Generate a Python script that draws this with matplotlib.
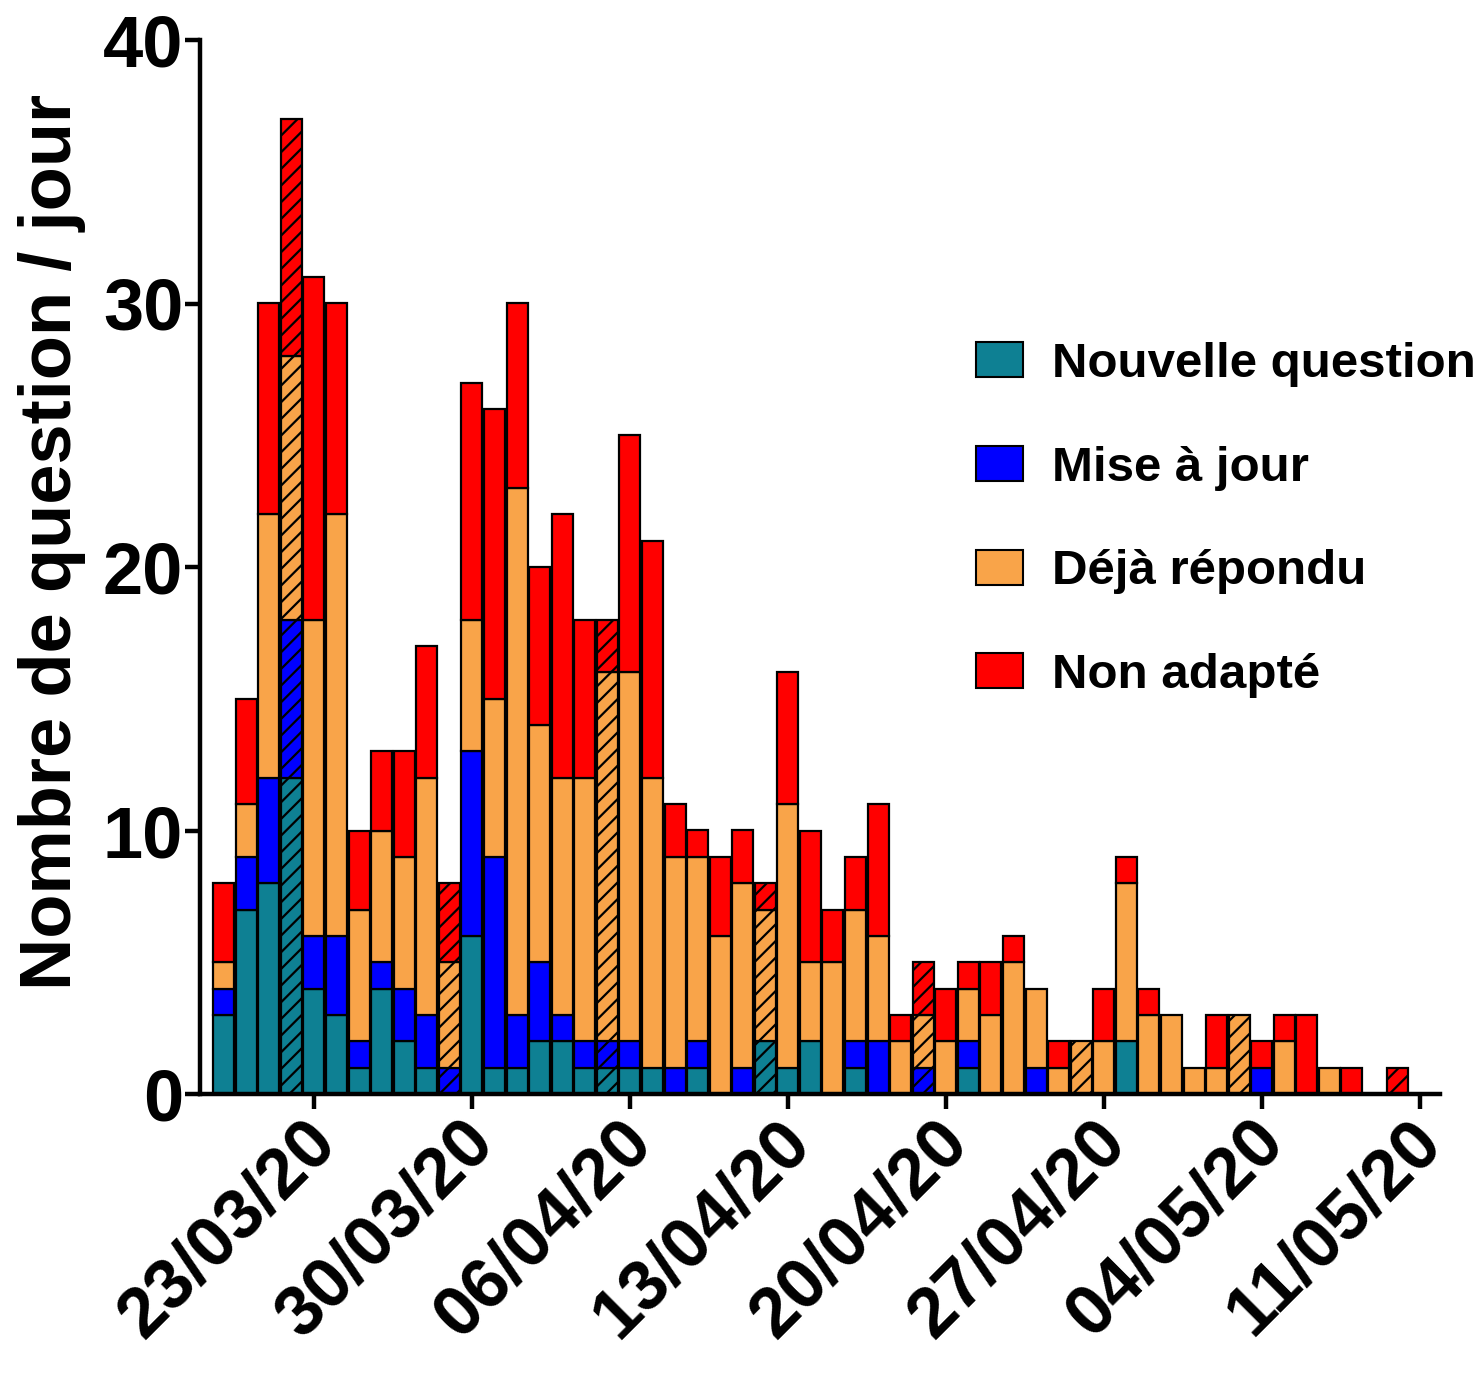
import matplotlib
matplotlib.use("Agg")
import matplotlib.pyplot as plt
from matplotlib.patches import Patch
import matplotlib.transforms as mtransforms
import numpy as np
import pandas as pd

# ---------------- data ----------------
start_date = "2020-03-19"
n_days = 53
nouvelle = [3, 7, 8, 12, 4, 3, 1, 4, 2, 1, 0, 6, 1,
            1, 2, 2, 1, 1, 1, 1, 0, 1, 0, 0, 2, 1, 2, 0, 1, 0, 0, 0, 0, 1, 0, 0, 0, 0, 0, 0, 2, 0, 0,
            0, 0, 0, 0, 0, 0, 0, 0, 0, 0]
mise_a_jour = [1, 2, 4, 6, 2, 3, 1, 1, 2, 2, 1, 7, 8,
               2, 3, 1, 1, 1, 1, 0, 1, 1, 0, 1, 0, 0, 0, 0, 1, 2, 0, 1, 0, 1, 0, 0, 1, 0, 0, 0, 0, 0, 0,
               0, 0, 0, 1, 0, 0, 0, 0, 0, 0]
deja_repondu = [1, 2, 10, 10, 12, 16, 5, 5, 5, 9, 4, 5, 6,
                20, 9, 9, 10, 14, 14, 11, 8, 7, 6, 7, 5, 10, 3, 5, 5, 4, 2, 2, 2, 2, 3, 5, 3, 1, 2, 2, 6, 3, 3,
                1, 1, 3, 0, 2, 0, 1, 0, 0, 0]
non_adapte = [3, 4, 8, 9, 13, 8, 3, 3, 4, 5, 3, 9, 11,
              7, 6, 10, 6, 2, 9, 9, 2, 1, 3, 2, 1, 5, 5, 2, 2, 5, 1, 2, 2, 1, 2, 1, 0, 1, 0, 2, 1, 1, 0,
              0, 2, 0, 1, 1, 3, 0, 1, 0, 1]
series_names = ["Nouvelle question", "Mise à jour", "Déjà répondu", "Non adapté"]
series_colors = ["#0E8093", "#0000FF", "#F9A449", "#FF0000"]
tick_dates = ["2020-03-23", "2020-03-30", "2020-04-06", "2020-04-13",
              "2020-04-20", "2020-04-27", "2020-05-04", "2020-05-11"]
tick_labels = ["23/03/20", "30/03/20", "06/04/20", "13/04/20",
               "20/04/20", "27/04/20", "04/05/20", "11/05/20"]
y_ticks = [0, 10, 20, 30, 40]

# ---------------- figure ----------------
plt.rcParams["font.family"] = ["Liberation Sans", "DejaVu Sans"]
plt.rcParams["font.weight"] = "bold"
plt.rcParams["hatch.linewidth"] = 1.6

fig = plt.figure(figsize=(14.84, 13.75), dpi=100)
ax = fig.add_axes([200 / 1484, 1 - 1094 / 1375, 1240 / 1484, (1094 - 40) / 1375])

dates = pd.date_range(start_date, periods=n_days, freq="D")
x = np.arange(n_days)
sunday = dates.dayofweek == 6

data = [np.array(nouvelle), np.array(mise_a_jour), np.array(deja_repondu), np.array(non_adapte)]
bottom = np.zeros(n_days)
for vals, col in zip(data, series_colors):
    for i in range(n_days):
        if vals[i] > 0:
            ax.bar(x[i], vals[i], bottom=bottom[i], width=0.93, color=col,
                   edgecolor="black", linewidth=1.6,
                   hatch="//" if sunday[i] else None, zorder=2)
    bottom = bottom + vals

# axes styling
ax.set_xlim(-1.05, 53.9)
ax.set_ylim(0, 40)
for s in ["top", "right"]:
    ax.spines[s].set_visible(False)
for s in ["left", "bottom"]:
    ax.spines[s].set_linewidth(3.2)
ax.set_yticks(y_ticks)
ax.set_yticklabels([str(v) for v in y_ticks], fontsize=52, fontweight="bold")
tick_pos = [(pd.Timestamp(d) - dates[0]).days for d in tick_dates]
ax.set_xticks(tick_pos)
ax.set_xticklabels(tick_labels, fontsize=51, fontweight="bold", rotation=45,
                   ha="right", va="center", rotation_mode="anchor")
ax.tick_params(axis="both", direction="out", length=11, width=3.2, colors="black")
ax.tick_params(axis="x", pad=16)
ax.tick_params(axis="y", pad=1)
offset = mtransforms.ScaledTranslation(12 / 100, 0, fig.dpi_scale_trans)
for lbl in ax.get_xticklabels():
    lbl.set_transform(lbl.get_transform() + offset)

fig.text(52 / 1484, 1 - 542 / 1375, "Nombre de question / jour", rotation=90,
         ha="center", va="center", fontsize=52, fontweight="bold")

handles = [Patch(facecolor=c, edgecolor="black", linewidth=1.5) for c in series_colors]
leg = ax.legend(handles, series_names, loc="upper left",
                bbox_to_anchor=(976 / 1484, 1 - 342 / 1375), bbox_transform=fig.transFigure,
                frameon=False, prop={"size": 35.5, "weight": "bold"},
                handlelength=0.95, handleheight=0.72, handletextpad=0.6,
                labelspacing=1.19, borderaxespad=0, borderpad=0)

fig.savefig("out.png", dpi=100)
